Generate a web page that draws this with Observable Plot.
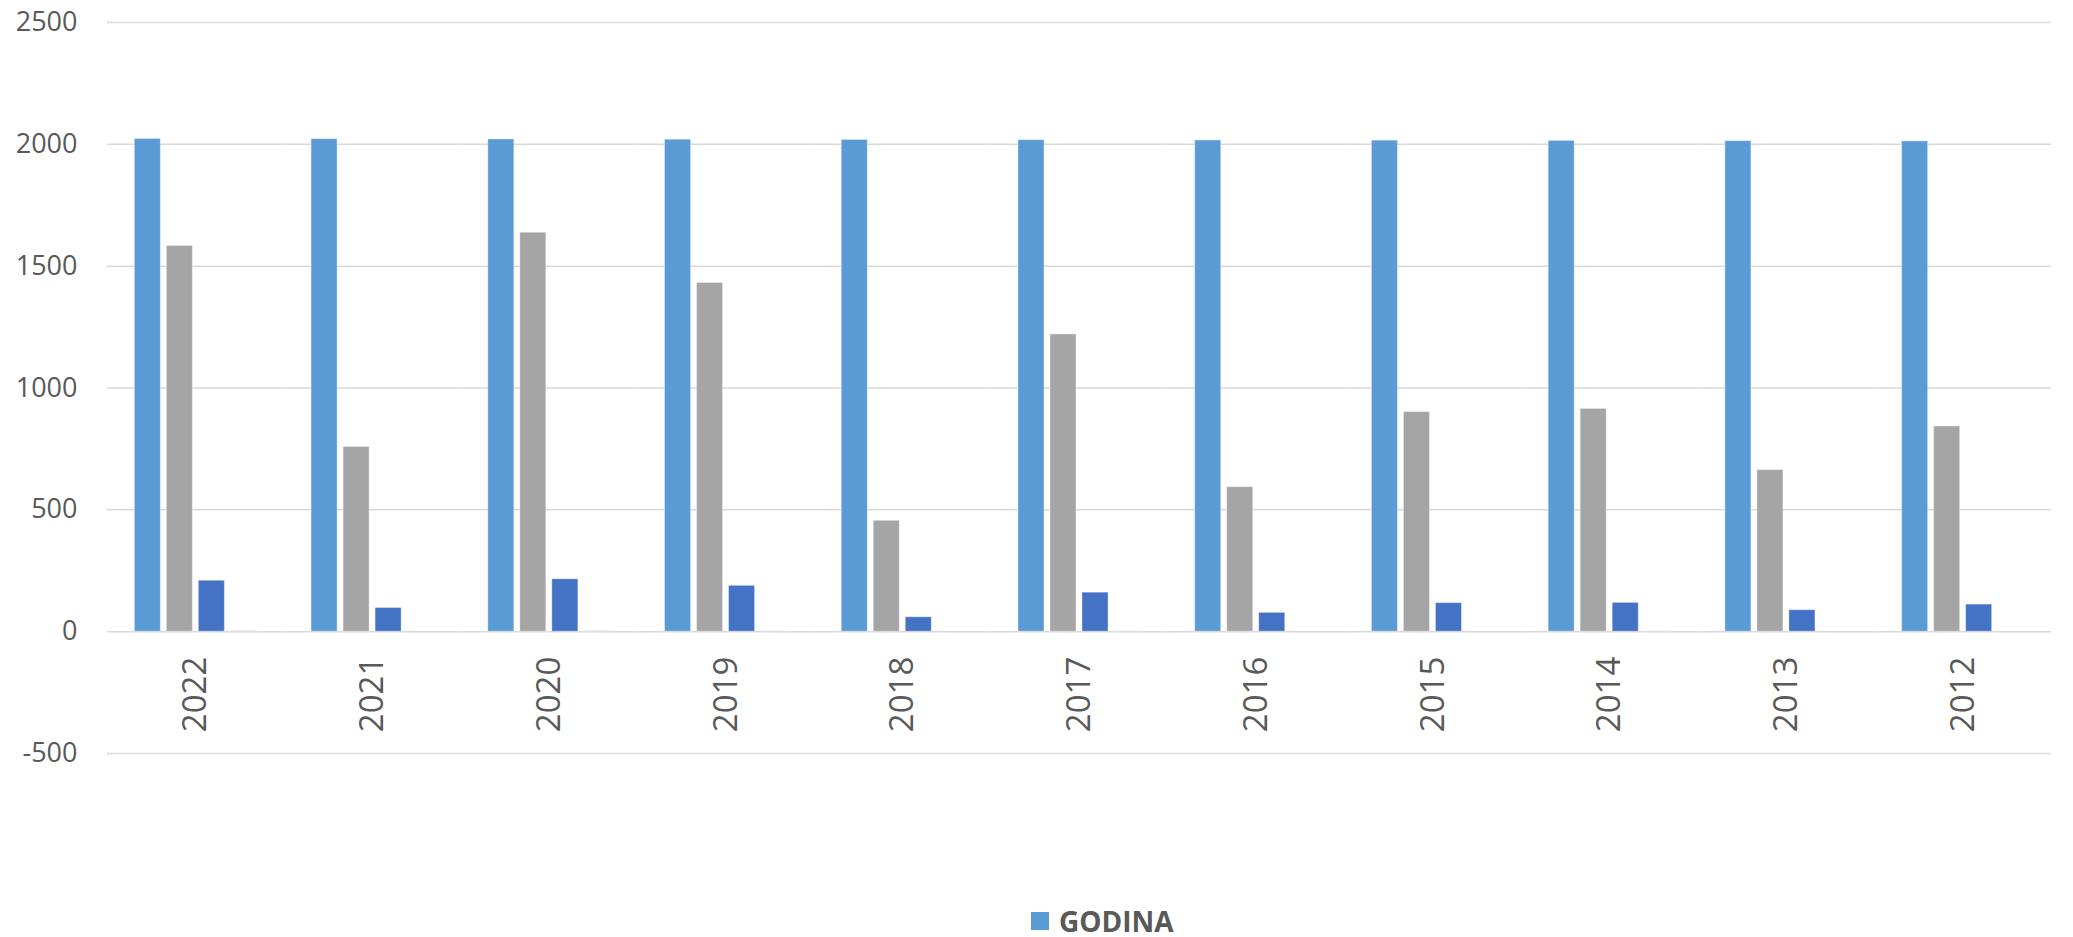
<!DOCTYPE html>
<html>
<head>
<meta charset="utf-8">
<script src="https://cdn.jsdelivr.net/npm/d3@7"></script>
<script src="https://cdn.jsdelivr.net/npm/@observablehq/plot@0.6"></script>
<style>
  html, body { margin: 0; padding: 0; background: #fff; }
  #wrap { position: relative; width: 2073px; height: 937px; font-family: "Open Sans", sans-serif; }
  #legend { position: absolute; left: 1031px; top: 905px; height: 32px; display: flex; align-items: center; gap: 10px; }
  #legend .sw { width: 18px; height: 18px; background: #5B9BD5; }
  #legend .lb { font-size: 28px; font-weight: 700; color: #595959; line-height: 32px; }
</style>
</head>
<body>
<div id="wrap"></div>
<script>
const years = ["2022", "2021", "2020", "2019", "2018", "2017", "2016", "2015", "2014", "2013", "2012"];
const seriesNames = ["GODINA", "Serija 2", "Serija 3", "Serija 4"];
const seriesColors = ["#5B9BD5", "#A5A5A5", "#4472C4", "#C9D3E8"];
const godina = [2022, 2021, 2020, 2019, 2018, 2017, 2016, 2015, 2014, 2013, 2012];
const serija2 = [1583, 758, 1637, 1431, 455, 1220, 593, 901, 914, 663, 842];
const serija3 = [209, 97, 215, 188, 59, 160, 77, 117, 118, 88, 111];
const serija4 = [3, 0, 3, 2, 0, 2, 0, 0, 2, 0, 0];
const yTicks = [-500, 0, 500, 1000, 1500, 2000, 2500];

const allSeries = [godina, serija2, serija3, serija4];
const table = [];
years.forEach((yr, i) => {
  seriesNames.forEach((s, j) => {
    table.push({ year: yr, series: s, value: allSeries[j][i] });
  });
});

const chart = Plot.plot({
  width: 2073,
  height: 880,
  marginTop: 22,
  marginBottom: 127,
  marginLeft: 107,
  marginRight: 22,
  style: { fontFamily: "Open Sans, sans-serif", background: "#fff" },
  fx: { domain: years, padding: 0, round: false, axis: null },
  x: { domain: seriesNames, paddingInner: 0.1875, paddingOuter: 0.854, round: false, axis: null },
  y: { domain: [-500, 2500], axis: null },
  color: { domain: seriesNames, range: seriesColors },
  marks: [
    Plot.gridY(yTicks, { stroke: "#d9d9d9", strokeOpacity: 1, strokeWidth: 1.5 }),
    Plot.barY(table, { fx: "year", x: "series", y: "value", fill: "series", stroke: "#ffffff", strokeOpacity: 0.35, strokeWidth: 1 }),
    Plot.axisY(yTicks, { tickSize: 0, tickPadding: 30, tickFormat: d => String(d), label: null, fontSize: 27, fill: "#595959" }),
    Plot.text(years, { fx: d => d, y: () => 0, text: d => d, rotate: -90, textAnchor: "end", dy: 25, fontSize: 33, fill: "#595959" })
  ]
});

const wrap = document.getElementById("wrap");
wrap.appendChild(chart);
const legend = document.createElement("div");
legend.id = "legend";
legend.innerHTML = '<div class="sw"></div><div class="lb">GODINA</div>';
wrap.appendChild(legend);
</script>
</body>
</html>
